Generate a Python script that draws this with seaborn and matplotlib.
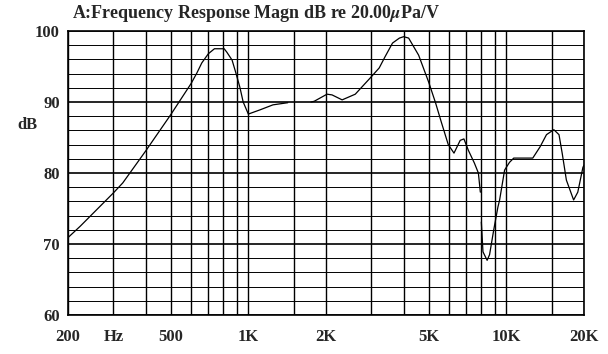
import numpy as np
import pandas as pd
import matplotlib
matplotlib.use("Agg")
import matplotlib.pyplot as plt
import seaborn as sns

# frequency response (Hz, dB); seg marks the gaps in the trace
freq = [200, 223, 300, 326, 400, 500, 600, 632, 660, 700, 739, 806, 826, 865, 893,
        927, 955, 1000, 1111, 1246, 1422,
        1749, 1800, 2018, 2111, 2310, 2597, 2970, 3216, 3379, 3621, 3850, 4000, 4182,
        4571, 5000, 5315, 5594, 5955, 6268, 6625, 6848, 7125, 7519, 7792, 7930,
        8000, 8118, 8425, 8611, 8937, 9275, 9418, 9845, 10000, 10287, 10683,
        11740, 12660, 13520, 14310, 15280, 16000, 16460, 17090, 18230, 18920,
        19810, 20000]
db = [70.9, 72.5, 77.2, 78.6, 83.1, 88.2, 92.6, 94.1, 95.5, 96.8, 97.5, 97.5,
      97.0, 95.9, 94.2, 92.1, 90.0, 88.3, 88.9, 89.6, 89.9,
      90.0, 90.1, 91.1, 91.0, 90.3, 91.1, 93.4, 94.8, 96.3, 98.3, 99.0, 99.2, 99.0,
      96.6, 92.8, 89.9, 87.2, 84.0, 82.8, 84.6, 84.8, 83.2, 81.4, 80.0, 77.3,
      73.1, 68.9, 67.7, 68.5, 72.0, 75.2, 76.2, 80.4, 80.8, 81.5, 82.1,
      82.1, 82.1, 83.7, 85.4, 86.1, 85.4, 82.8, 79.0, 76.2, 77.3,
      80.8, 81.1]
seg = [0] * 21 + [1] * 25 + [2] * 23

grid_freqs = [200, 300, 400, 500, 600, 700, 800, 900, 1000, 1500, 2000, 3000,
              4000, 5000, 6000, 7000, 8000, 9000, 10000, 15000, 20000]
tick_text = {200: "200", 300: "Hz", 500: "500", 1000: "1K", 2000: "2K",
             5000: "5K", 10000: "10K", 20000: "20K"}

df = pd.DataFrame({"freq": freq, "db": db, "seg": seg})

sns.set_style("white")
plt.rcParams["font.family"] = ["Liberation Serif", "DejaVu Serif"]
plt.rcParams["font.weight"] = "bold"
plt.rcParams["mathtext.fontset"] = "stix"

fig = plt.figure(figsize=(6.08, 3.54), dpi=100)
ax = fig.add_axes([68 / 608, 1 - 315 / 354, 516 / 608, 284 / 354])

sns.lineplot(data=df, x="freq", y="db", units="seg", estimator=None,
             color="black", linewidth=0.9, ax=ax, zorder=3)

ax.set_xscale("log")
ax.set_xlim(200, 20000)
ax.set_ylim(60, 100)

ax.set_xticks(grid_freqs)
ax.set_xticklabels([tick_text.get(f, "") for f in grid_freqs])
ax.xaxis.set_minor_locator(matplotlib.ticker.NullLocator())
ax.set_yticks(range(60, 101, 10))
ax.set_yticks(range(60, 101, 2), minor=True)

ax.grid(True, which="major", axis="x", color="black", linewidth=1.0)
ax.grid(True, which="major", axis="y", color="black", linewidth=1.2)
ax.grid(True, which="minor", axis="y", color="black", linewidth=0.7)

ax.tick_params(axis="both", which="both", length=0, labelsize=12)
ax.tick_params(axis="x", pad=10)
ax.tick_params(axis="y", pad=6)
for lab in ax.get_xticklabels() + ax.get_yticklabels():
    lab.set_fontweight("bold")

for s in ax.spines.values():
    s.set_color("black")
    s.set_linewidth(1.2)

ax.set_xlabel("")
ax.set_ylabel("dB", rotation=0, fontsize=12, fontweight="bold")
ax.yaxis.set_label_coords(-0.078, 0.64)

fig.text(72 / 608, 1 - 13 / 354, r"A:Frequency Response Magn dB re 20.00$\mu$Pa/V",
         fontsize=13, fontweight="bold", va="center", ha="left")

fig.savefig("out.png", dpi=100, facecolor="white")
